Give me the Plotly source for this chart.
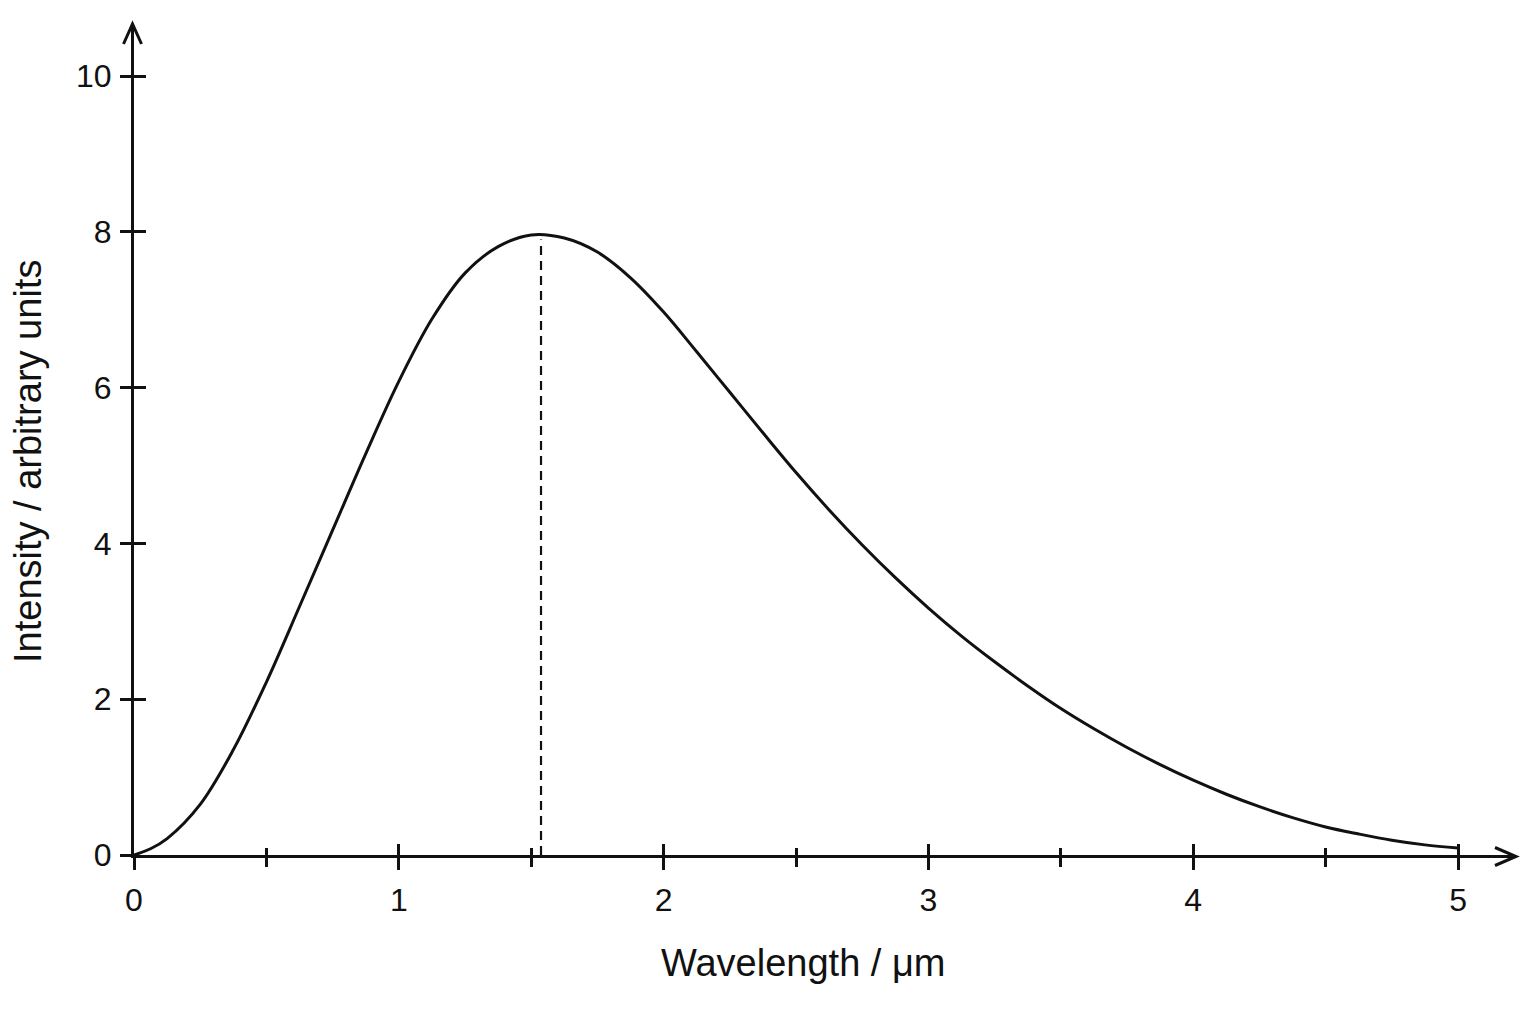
import plotly.graph_objects as go

# ---- data ----
wavelength = [0, 0.0625, 0.125, 0.25, 0.375, 0.5, 0.625, 0.75, 0.875, 1.0, 1.125, 1.25, 1.375,
              1.5, 1.625, 1.75, 1.875, 2.0, 2.125, 2.25, 2.375, 2.5, 2.625, 2.75,
              2.875, 3.0, 3.125, 3.25, 3.375, 3.5, 3.625, 3.75, 3.875, 4.0, 4.125,
              4.25, 4.375, 4.5, 4.625, 4.75, 4.875, 5.0]
intensity = [0, 0.08, 0.21, 0.65, 1.35, 2.22, 3.19, 4.17, 5.15, 6.08, 6.88, 7.47, 7.81,
             7.96, 7.92, 7.74, 7.41, 6.97, 6.46, 5.94, 5.42, 4.91, 4.43, 3.98,
             3.56, 3.17, 2.81, 2.48, 2.17, 1.88, 1.62, 1.38, 1.16, 0.96, 0.78,
             0.62, 0.48, 0.36, 0.27, 0.19, 0.13, 0.09]
peak_wavelength = 1.537
peak_marker_top = 7.9

x_major_ticks = [0, 1, 2, 3, 4, 5]
x_minor_ticks = [0.5, 1.5, 2.5, 3.5, 4.5]
y_ticks = [0, 2, 4, 6, 8, 10]

x_title = "Wavelength / μm"
y_title = "Intensity / arbitrary units"

X_RANGE = [0, 5.215]
Y_RANGE = [0, 10.655]

FONT = "Liberation Sans, Arial, Helvetica, sans-serif"
INK = "#111111"

fig = go.Figure()

fig.add_trace(go.Scatter(
    x=wavelength, y=intensity, mode="lines",
    line=dict(color=INK, width=3, shape="spline", smoothing=1.0),
    hoverinfo="skip", showlegend=False, cliponaxis=False,
))

fig.add_trace(go.Scatter(
    x=[peak_wavelength, peak_wavelength], y=[0, peak_marker_top], mode="lines",
    line=dict(color=INK, width=2.2, dash="9px,6px"),
    hoverinfo="skip", showlegend=False,
    xaxis="x2", yaxis="y2",
))

tickfont = dict(family=FONT, size=32, color=INK)

fig.update_layout(
    width=1528, height=1016,
    margin=dict(l=126, r=21, t=17, b=169, pad=0),
    paper_bgcolor="white", plot_bgcolor="white",
    font=dict(family=FONT, color=INK),
    xaxis=dict(
        range=X_RANGE, showgrid=False, zeroline=False,
        showline=True, linecolor=INK, linewidth=3,
        tickmode="array", tickvals=x_major_ticks,
        ticktext=[str(v) for v in x_major_ticks],
        ticks="outside", ticklen=12, tickwidth=2.5, tickcolor=INK,
        minor=dict(tickvals=x_minor_ticks, ticks="outside", ticklen=9,
                   tickwidth=2.5, tickcolor=INK, showgrid=False),
        tickfont=tickfont, ticklabelstandoff=3,
        fixedrange=True,
    ),
    yaxis=dict(
        range=Y_RANGE, showgrid=False, zeroline=False,
        showline=True, linecolor=INK, linewidth=3,
        tickmode="array", tickvals=y_ticks,
        ticktext=[str(v) for v in y_ticks],
        ticks="outside", ticklen=11, tickwidth=2.5, tickcolor=INK,
        tickfont=tickfont, ticklabelstandoff=2,
        fixedrange=True,
    ),
    xaxis2=dict(
        range=X_RANGE, overlaying="x", anchor="y2", side="bottom",
        showgrid=False, zeroline=False, showline=False,
        tickmode="array", tickvals=x_major_ticks,
        ticks="inside", ticklen=11, tickwidth=2.5, tickcolor=INK,
        minor=dict(tickvals=x_minor_ticks, ticks="inside", ticklen=7,
                   tickwidth=2.5, tickcolor=INK, showgrid=False),
        showticklabels=False, fixedrange=True,
    ),
    yaxis2=dict(
        range=Y_RANGE, overlaying="y", anchor="x2", side="left",
        showgrid=False, zeroline=False, showline=False,
        tickmode="array", tickvals=y_ticks,
        ticks="inside", ticklen=12, tickwidth=2.5, tickcolor=INK,
        showticklabels=False, fixedrange=True,
    ),
    showlegend=False,
)

# axis titles
fig.add_annotation(
    text=x_title, xref="paper", yref="paper",
    x=(803 - 134) / 1381, y=-(963 - 855) / 830,
    xanchor="center", yanchor="middle", showarrow=False,
    font=dict(family=FONT, size=38, color=INK),
)
fig.add_annotation(
    text=y_title, xref="paper", yref="paper",
    x=(28 - 134) / 1381, y=(855 - 462) / 830,
    xanchor="center", yanchor="middle", showarrow=False, textangle=-90,
    font=dict(family=FONT, size=38, color=INK),
)

# open arrowheads at the ends of the axes
fig.add_shape(
    type="path", xref="paper", yref="paper", xsizemode="pixel", ysizemode="pixel",
    xanchor=0, yanchor=1, path="M -10.5,-19 L -1.5,1 L 7.5,-19",
    line=dict(color=INK, width=3),
)
fig.add_shape(
    type="path", xref="paper", yref="paper", xsizemode="pixel", ysizemode="pixel",
    xanchor=1, yanchor=0, path="M -20,7.5 L 1,-1.5 L -20,-10.5",
    line=dict(color=INK, width=3),
)

fig.write_html("out.html", config={"displayModeBar": False})
